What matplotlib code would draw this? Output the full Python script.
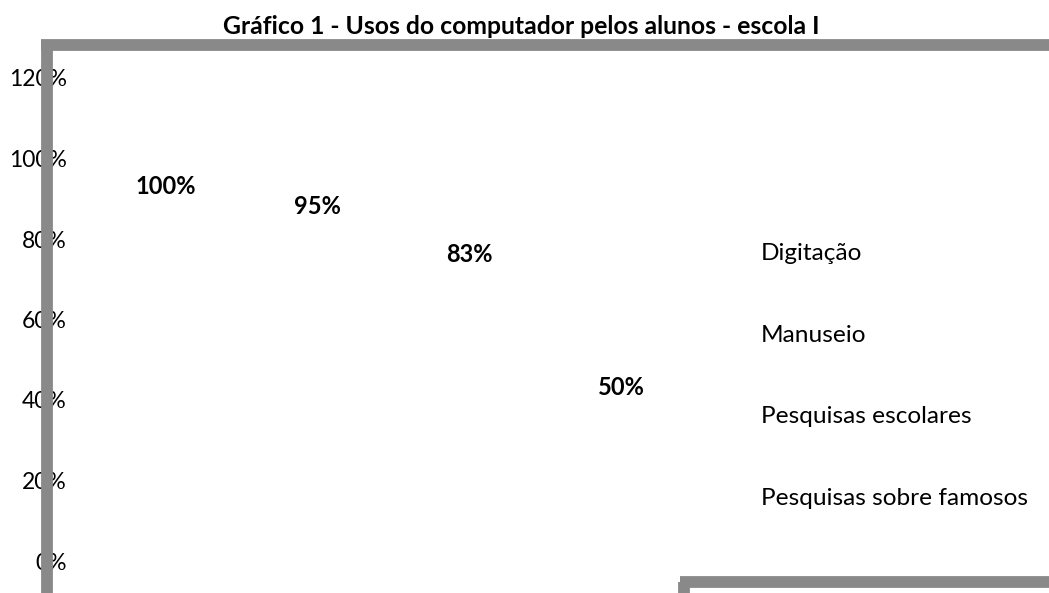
import matplotlib
matplotlib.use('Agg')
import matplotlib.pyplot as plt
from matplotlib.lines import Line2D

plt.rcParams['font.family'] = ['Lato', 'DejaVu Sans']

titulo = 'Gráfico 1 - Usos do computador pelos alunos - escola I'
usos = ['Digitação', 'Manuseio', 'Pesquisas escolares', 'Pesquisas sobre famosos']
valores = [1.00, 0.95, 0.83, 0.50]
ticks = [0, 0.2, 0.4, 0.6, 0.8, 1.0, 1.2]

W, H = 1049, 593
fig = plt.figure(figsize=(W / 100, H / 100), dpi=100)
ax = fig.add_axes([46 / W, (H - 561) / H, 695 / W, 483 / H])

cinza = '#898989'
barras = []
for i, (nome, v) in enumerate(zip(usos, valores)):
    b = ax.bar(i - 1.5, v, width=1.0, color='none', edgecolor='none', label=nome)
    barras.append(b)
    for r in b:
        ax.annotate(f'{v:.0%}', (r.get_x() + r.get_width() / 2, r.get_height()),
                    xytext=(0, -28), textcoords='offset pixels',
                    ha='center', va='center', fontsize=17, fontweight='bold')

ax.set_xlim(-2.29, 2.29)
ax.set_ylim(0, 1.2)
ax.set_yticks(ticks)
ax.set_yticklabels([f'{t:.0%}' for t in ticks], fontsize=16.5)
ax.tick_params(axis='y', length=0, pad=-15)
ax.set_xticks([])
for s in ax.spines.values():
    s.set_visible(False)
ax.patch.set_alpha(0)

fig.text(521 / W, 1 - 26 / H, titulo, ha='center', va='center',
         fontsize=17.8, fontweight='bold')

leg = fig.legend(handles=barras, labels=usos, loc='upper left',
                 bbox_to_anchor=(749 / W, 1 - 231 / H), frameon=False,
                 fontsize=17.6, handlelength=0, handletextpad=0, borderpad=0,
                 labelspacing=2.47)

# bordas cinzas do gráfico
lw = 8.5
fig.add_artist(Line2D([47 / W, 47 / W], [0, 1 - 45 / H], color=cinza, lw=lw,
                      solid_capstyle='butt', transform=fig.transFigure))
fig.add_artist(Line2D([41 / W, 1], [1 - 45 / H, 1 - 45 / H], color=cinza, lw=lw,
                      solid_capstyle='butt', transform=fig.transFigure))
fig.add_artist(Line2D([684 / W, 684 / W], [0, 1 - 582 / H], color=cinza, lw=lw,
                      solid_capstyle='butt', transform=fig.transFigure))
fig.add_artist(Line2D([680 / W, 1], [1 - 582 / H, 1 - 582 / H], color=cinza, lw=lw,
                      solid_capstyle='butt', transform=fig.transFigure))

fig.savefig('out.png', dpi=100)
